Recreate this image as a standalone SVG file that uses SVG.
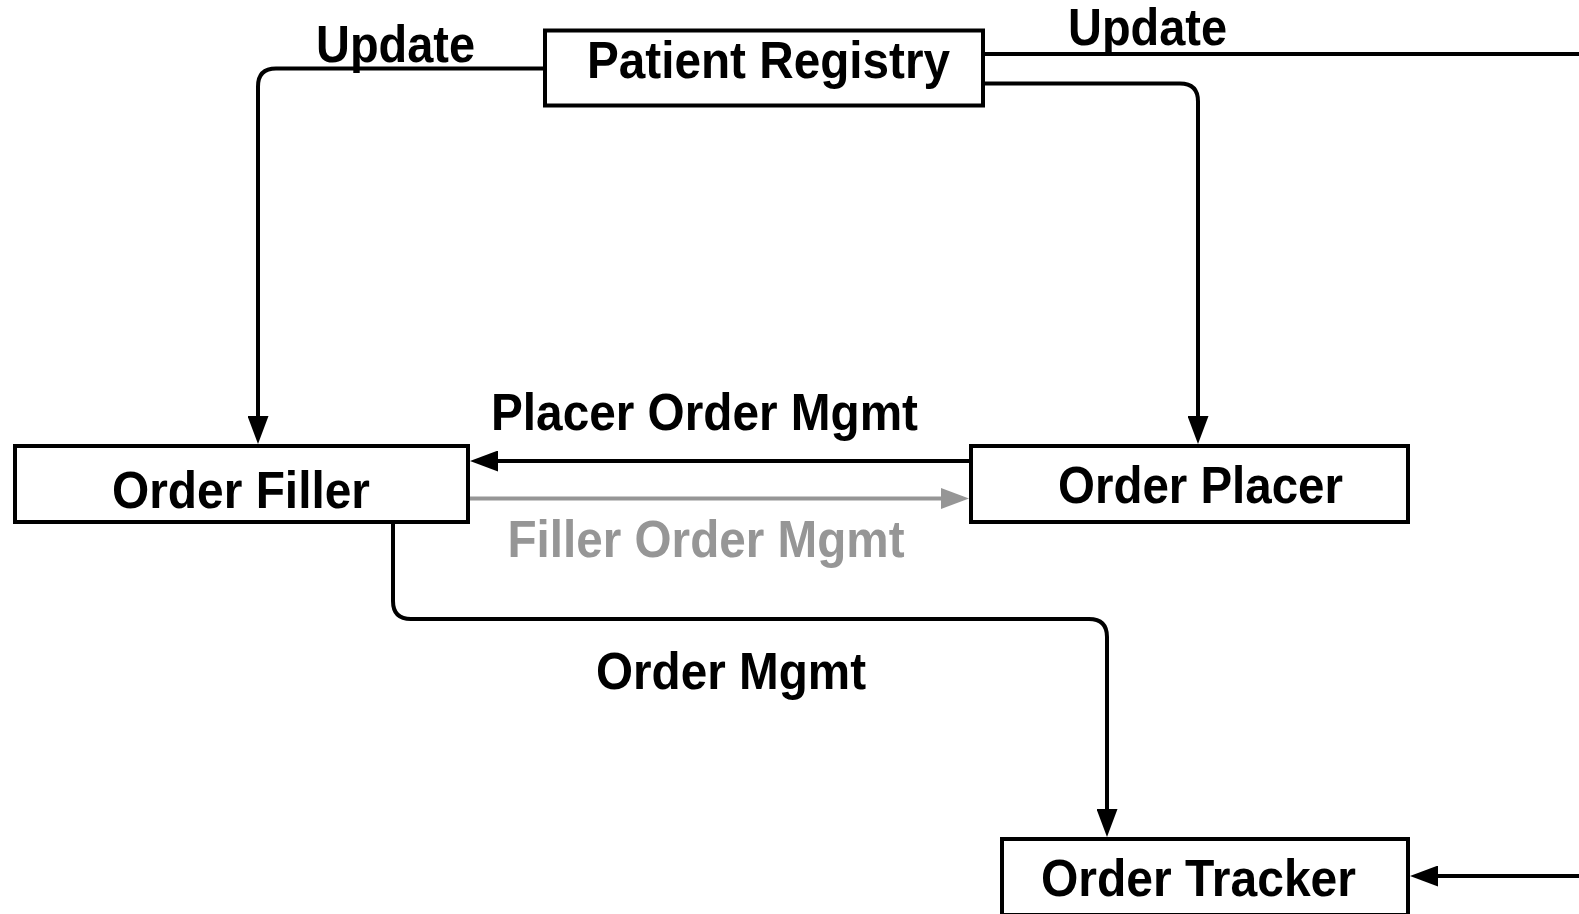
<svg xmlns="http://www.w3.org/2000/svg" width="1579" height="914" viewBox="0 0 1579 914">
<style>
  .box { fill: #ffffff; stroke: #000000; stroke-width: 4; }
  .lbl { font-family: "Liberation Sans", Arial, sans-serif; font-weight: bold; font-size: 52px; fill: #000000; }
  .gray { fill: #969696; }
  .conn { fill: none; stroke: #000000; stroke-width: 4; }
  .conn.g { stroke: #969696; }
</style>
<defs>
  <marker id="arr" viewBox="0 0 28 21" refX="22" refY="10.5" markerWidth="28" markerHeight="21" markerUnits="userSpaceOnUse" orient="auto">
    <path d="M0,0 L28,10.5 L0,21 z" fill="#000000"/>
  </marker>
  <marker id="arrg" viewBox="0 0 28 21" refX="22" refY="10.5" markerWidth="28" markerHeight="21" markerUnits="userSpaceOnUse" orient="auto">
    <path d="M0,0 L28,10.5 L0,21 z" fill="#969696"/>
  </marker>
</defs>
<rect width="1579" height="914" fill="#ffffff"/>
<g id="connectors">
  <path class="conn" d="M545,68.5 H276 Q258,68.5 258,86.5 V438" marker-end="url(#arr)"/>
  <path class="conn" d="M983,54 H1580 Q1598,54 1598,72 V858 Q1598,876 1580,876 H1416" marker-end="url(#arr)"/>
  <path class="conn" d="M983,83.5 H1180 Q1198,83.5 1198,101.5 V438" marker-end="url(#arr)"/>
  <path class="conn" d="M971,461 H476" marker-end="url(#arr)"/>
  <path class="conn g" d="M468,498.5 H963" marker-end="url(#arrg)"/>
  <path class="conn" d="M393,522 V601 Q393,619 411,619 H1089 Q1107,619 1107,637 V831" marker-end="url(#arr)"/>
  <text class="lbl" x="316" y="61.5" textLength="159" lengthAdjust="spacingAndGlyphs">Update</text>
  <text class="lbl" x="1068" y="45" textLength="159" lengthAdjust="spacingAndGlyphs">Update</text>
  <text class="lbl" x="491" y="429.5" textLength="427" lengthAdjust="spacingAndGlyphs">Placer Order Mgmt</text>
  <text class="lbl gray" x="507.5" y="556.5" textLength="397" lengthAdjust="spacingAndGlyphs">Filler Order Mgmt</text>
  <text class="lbl" x="596" y="688.5" textLength="270" lengthAdjust="spacingAndGlyphs">Order Mgmt</text>
</g>
<g id="patient-registry">
  <rect class="box" x="545" y="30.5" width="438" height="75"/>
  <text class="lbl" x="587" y="78" textLength="363" lengthAdjust="spacingAndGlyphs">Patient Registry</text>
</g>
<g id="order-filler">
  <rect class="box" x="15" y="446" width="453" height="76"/>
  <text class="lbl" x="112" y="508" textLength="258" lengthAdjust="spacingAndGlyphs">Order Filler</text>
</g>
<g id="order-placer">
  <rect class="box" x="971" y="446" width="437" height="76"/>
  <text class="lbl" x="1058" y="502.5" textLength="285" lengthAdjust="spacingAndGlyphs">Order Placer</text>
</g>
<g id="order-tracker">
  <rect class="box" x="1002" y="839" width="406" height="76"/>
  <text class="lbl" x="1041" y="896" textLength="315" lengthAdjust="spacingAndGlyphs">Order Tracker</text>
</g>
</svg>
